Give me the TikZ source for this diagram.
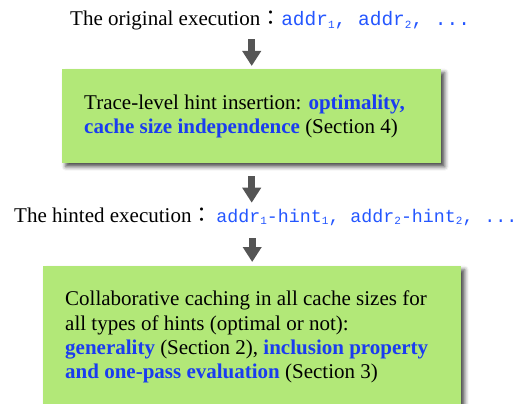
\documentclass[tikz,border=0pt]{standalone}
\usepackage{fontspec}
\setmainfont{Liberation Serif}
\setmonofont{Liberation Mono}
\newfontfamily\cjkfont{Noto Sans CJK JP}
\usetikzlibrary{arrows.meta,shadows.blur}
\definecolor{boxgreen}{HTML}{B2E878}
\definecolor{kwblue}{HTML}{1A3CF0}
\definecolor{codeblue}{HTML}{2456FF}
\definecolor{arrowgray}{HTML}{555555}
\newcommand{\sbs}[1]{\raisebox{-2.5pt}{\fontsize{11}{11}\selectfont #1}}
\newcommand{\kw}[1]{\textcolor{kwblue}{\textbf{#1}}}
\newcommand{\cjkcolon}{{\cjkfont ：}}
\newcommand{\code}[2][18.3]{{\fontsize{#1}{20}\selectfont\ttfamily\color{codeblue}#2}}
\begin{document}
\begin{tikzpicture}[x=1pt, y=-1pt, font=\fontsize{21}{24.5}\selectfont,
  greenbox/.style={draw=none, fill=boxgreen, inner sep=0pt, anchor=north west,
    blur shadow={shadow xshift=3.5pt, shadow yshift=-3.5pt, shadow blur radius=4pt, shadow opacity=70}},
  linetext/.style={anchor=base west, inner sep=0pt},
  bigarrow/.style={draw=arrowgray, line width=7pt, -{Triangle[length=15pt,width=18pt]}}]
\useasboundingbox (0,0) rectangle (530,404);
\clip (0,0) rectangle (530,404);

% boxes
\node[greenbox, minimum width=379pt, minimum height=94pt] (box1) at (62,69) {};
\node[greenbox, minimum width=418pt, minimum height=160pt] (box2) at (43,266) {};

% top line
\node[linetext] (orig) at (70,26) {The original execution\cjkcolon\code[19.5]{addr\sbs{1}, addr\sbs{2}, ...}};

% box 1 text
\node[linetext] (b1l1) at (84,109) {Trace-level hint insertion: \kw{optimality,}};
\node[linetext] (b1l2) at (84,133) {\kw{cache size independence} (Section 4)};

% middle line
\node[linetext] (hint) at (14,222) {The hinted execution\cjkcolon\hspace{4pt}\code{addr\sbs{1}-hint\sbs{1}, addr\sbs{2}-hint\sbs{2}, ...}};

% box 2 text
\node[linetext] (b2l1) at (65,305) {Collaborative caching in all cache sizes for};
\node[linetext] (b2l2) at (65,330) {all types of hints (optimal or not):};
\node[linetext] (b2l3) at (65,354) {\kw{generality} (Section 2), \kw{inclusion property}};
\node[linetext] (b2l4) at (65,378) {\kw{and one-pass evaluation} (Section 3)};

% arrows
\draw[bigarrow, shorten <=8.5pt, shorten >=3pt] (box1.north |- orig.south) -- (box1.north);
\draw[bigarrow, shorten <=13pt, shorten >=4.5pt] (box1.south) -- (box1.south |- hint.north);
\draw[bigarrow, shorten <=13pt, shorten >=4pt] (box2.north |- hint.south) -- (box2.north);
\end{tikzpicture}
\end{document}
